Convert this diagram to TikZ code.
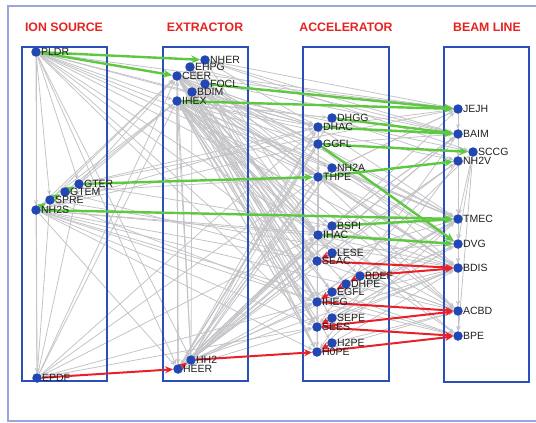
\documentclass[tikz,border=0pt]{standalone}
\usepackage{fontspec}
\setmainfont{Liberation Sans}
\usetikzlibrary{arrows.meta}
\pgfdeclarelayer{bg}
\pgfdeclarelayer{boxl}
\pgfdeclarelayer{col}
\pgfsetlayers{bg,boxl,col,main}
\definecolor{boxblue}{HTML}{2A4FB8}
\definecolor{nodeblue}{HTML}{2246B2}
\definecolor{grn}{HTML}{5EC842}
\definecolor{rd}{HTML}{E8202A}
\definecolor{edgegray}{HTML}{C4C4C8}
\definecolor{framecol}{HTML}{9AA5DD}
\definecolor{ttlred}{HTML}{E52421}
\tikzset{
  vtx/.style={circle, fill=nodeblue, minimum size=9.5pt, inner sep=0pt, label distance=0.3pt,
    label={[lbl]0:#1}},
  lbl/.style={font=\fontsize{10.5}{12}\selectfont, text=black!88, inner sep=0pt},
  ttl/.style={font=\bfseries\fontsize{12.3}{14}\selectfont, text=ttlred, inner sep=0pt},
  boxst/.style={draw=boxblue, line width=2.2pt},
  gedge/.style={draw=edgegray, line width=0.8pt, -{Stealth[length=5pt,width=4pt]}},
  gre/.style={draw=grn, line width=2.4pt, -{Stealth[length=9pt,width=8pt]}},
  red/.style={draw=rd, line width=2pt, -{Stealth[length=8pt,width=7pt]}}
}
\begin{document}
\begin{tikzpicture}[x=1pt,y=-1pt]
\useasboundingbox (0,0) rectangle (536,423);
\draw[draw=framecol, line width=1.5pt] (8,6) rectangle (560,421);

% titles
\node[ttl] (tIon) at (64,27) {ION SOURCE};
\node[ttl] (tExt) at (205,27) {EXTRACTOR};
\node[ttl] (tAcc) at (346,27) {ACCELERATOR};
\node[ttl] (tBeam) at (487,27) {BEAM LINE};

% ion source
\node[vtx=PLDR] (PLDR) at (36,52) {};
\node[vtx=GTER] (GTER) at (79,184) {};
\node[vtx=GTEM] (GTEM) at (65,192) {};
\node[vtx=SPRE] (SPRE) at (50,200) {};
\node[vtx=NH2S] (NH2S) at (36,210) {};
\node[vtx=EPDF] (EPDF) at (37,378) {};
% extractor
\node[vtx=NHER] (NHER) at (205,60) {};
\node[vtx=EHPG] (EHPG) at (190,67) {};
\node[vtx=CEER] (CEER) at (177,76) {};
\node[vtx=FOCL] (FOCL) at (205,84) {};
\node[vtx=BDIM] (BDIM) at (192,92) {};
\node[vtx=IHEX] (IHEX) at (177,101) {};
\node[vtx=HH2] (HH2) at (191,360) {};
\node[vtx=HEER] (HEER) at (178,369) {};
% accelerator
\node[vtx=DHGG] (DHGG) at (332,118) {};
\node[vtx=DHAC] (DHAC) at (318,127) {};
\node[vtx=GGFL] (GGFL) at (318,144) {};
\node[vtx=NH2A] (NH2A) at (332,168) {};
\node[vtx=THPE] (THPE) at (318,177) {};
\node[vtx=BSPI] (BSPI) at (332,226) {};
\node[vtx=IHAC] (IHAC) at (318,235) {};
\node[vtx=LESE] (LESE) at (332,253) {};
\node[vtx=SEAC] (SEAC) at (317,261) {};
\node[vtx=BDEF] (BDEF) at (360,276) {};
\node[vtx=DHPE] (DHPE) at (346,284) {};
\node[vtx=EGFL] (EGFL) at (332,292) {};
\node[vtx=IHEG] (IHEG) at (317,302) {};
\node[vtx=SEPE] (SEPE) at (332,318) {};
\node[vtx=SEES] (SEES) at (317,327) {};
\node[vtx=H2PE] (H2PE) at (332,343) {};
\node[vtx=H0PE] (H0PE) at (317,352) {};
% beam line
\node[vtx=JEJH] (JEJH) at (458,109) {};
\node[vtx=BAIM] (BAIM) at (458,134) {};
\node[vtx=SCCG] (SCCG) at (473,152) {};
\node[vtx=NH2V] (NH2V) at (458,161) {};
\node[vtx=TMEC] (TMEC) at (458,219) {};
\node[vtx=DVG] (DVG) at (458,244) {};
\node[vtx=BDIS] (BDIS) at (458,268) {};
\node[vtx=ACBD] (ACBD) at (458,311) {};
\node[vtx=BPE] (BPE) at (458,336) {};

\begin{pgfonlayer}{boxl}
\draw[boxst] (22,47) rectangle (107,381);
\draw[boxst] (163,47) rectangle (248,381);
\draw[boxst] (303,47) rectangle (389,381);
\draw[boxst] (444,47) rectangle (529,382);
\end{pgfonlayer}

\begin{pgfonlayer}{bg}
\foreach \a/\b in {
 PLDR/GTER, PLDR/SPRE, PLDR/NH2S, PLDR/EPDF, PLDR/CEER, PLDR/IHEX, PLDR/BDIM, PLDR/HEER, PLDR/HH2,
 PLDR/DHAC, PLDR/THPE, PLDR/IHAC, PLDR/SEAC, PLDR/IHEG, PLDR/SEES, PLDR/JEJH, PLDR/TMEC, PLDR/BDIS,
 NH2S/EPDF, NH2S/CEER, NH2S/IHEX, NH2S/HEER, NH2S/GGFL, NH2S/DHAC, NH2S/IHAC, NH2S/SEAC, NH2S/IHEG,
 NH2S/SEES, NH2S/H0PE, NH2S/DVG, NH2S/ACBD, NH2S/BPE,
 GTER/CEER, GTER/IHEX, GTER/DHAC, GTER/BSPI, GTER/JEJH,
 GTEM/IHEX, GTEM/THPE, GTEM/SEAC, SPRE/CEER, SPRE/IHEG, SPRE/BDIS,
 EPDF/CEER, EPDF/IHEX, EPDF/SPRE, EPDF/GTER, EPDF/DHAC, EPDF/THPE, EPDF/IHAC, EPDF/SEES, EPDF/IHEG,
 CEER/DHAC, CEER/GGFL, CEER/THPE, CEER/IHAC, CEER/SEAC, CEER/IHEG, CEER/SEES, CEER/H0PE, CEER/JEJH,
 CEER/BAIM, CEER/TMEC, CEER/DVG, CEER/BDIS, CEER/ACBD, CEER/HEER, CEER/LESE, CEER/EGFL, CEER/SEPE,
 IHEX/DHGG, IHEX/DHAC, IHEX/GGFL, IHEX/NH2A, IHEX/THPE, IHEX/BSPI, IHEX/IHAC, IHEX/SEAC, IHEX/IHEG,
 IHEX/SEES, IHEX/H0PE, IHEX/HEER, IHEX/NH2V, IHEX/TMEC, IHEX/BPE, IHEX/ACBD, IHEX/LESE, IHEX/EGFL,
 IHEX/DHPE, IHEX/H2PE, IHEX/BDEF,
 BDIM/DHAC, BDIM/THPE, BDIM/IHAC, BDIM/SEAC, BDIM/BDIS, BDIM/SCCG, BDIM/SEPE, BDIM/IHEG, BDIM/SEES,
 BDIM/H0PE,
 NHER/JEJH, NHER/SCCG, NHER/DHAC, NHER/IHAC, NHER/BAIM, EHPG/THPE, EHPG/SEES, EHPG/BAIM,
 EHPG/IHAC, EHPG/SEAC, FOCL/IHEG,
 FOCL/GGFL, FOCL/SEAC, FOCL/DVG, FOCL/TMEC,
 HEER/IHEX, HEER/DHAC, HEER/GGFL, HEER/THPE, HEER/IHAC, HEER/SEAC, HEER/IHEG, HEER/SEES,
 HEER/NH2V, HEER/TMEC, HEER/BSPI, HEER/CEER, HEER/DHGG, HEER/NH2A, HEER/BAIM,
 HH2/IHEX, HH2/DHAC, HH2/THPE, HH2/IHAC, HH2/SEAC, HH2/BDIS, HH2/DVG, HH2/CEER, HH2/JEJH,
 HH2/GGFL, HH2/BSPI, HH2/NH2A, HH2/BAIM, HH2/BDIM,
 DHAC/CEER, THPE/IHEX, IHAC/HEER, SEAC/IHEX, DHGG/IHEX, IHEG/CEER, SEES/IHEX, H0PE/IHEX, GGFL/HEER,
 DHAC/THPE, THPE/IHAC, IHAC/SEAC, SEAC/IHEG, IHEG/SEES, SEES/H0PE, GGFL/IHAC, DHAC/SEES, THPE/H0PE,
 DHAC/JEJH, DHAC/TMEC, GGFL/BAIM, GGFL/BDIS, THPE/JEJH, THPE/DVG, THPE/BDIS, THPE/ACBD,
 IHAC/BAIM, IHAC/BDIS, IHAC/ACBD, IHAC/BPE, SEAC/TMEC, SEAC/NH2V, SEAC/ACBD, IHEG/TMEC,
 IHEG/BDIS, IHEG/BPE, IHEG/DVG, SEES/BDIS, SEES/DVG, SEES/TMEC, H0PE/ACBD, H0PE/BDIS, H0PE/TMEC,
 NH2A/TMEC, BSPI/BDIS, DHGG/NH2V, LESE/DVG, BDEF/ACBD, EGFL/BPE, DHPE/TMEC, H2PE/ACBD, SEPE/BDIS,
 JEJH/THPE, BAIM/IHAC, NH2V/SEAC, TMEC/IHEG, DVG/SEES, BDIS/THPE, SCCG/IHEG, BAIM/SEES, NH2V/H0PE,
 JEJH/BAIM, BAIM/NH2V, NH2V/TMEC, TMEC/DVG, DVG/BDIS, BDIS/ACBD, ACBD/BPE, SCCG/TMEC, SCCG/DVG,
 JEJH/TMEC, SCCG/BPE, JEJH/ACBD, BAIM/BDIS}
 \draw[gedge] (\a) -- (\b);
\end{pgfonlayer}

\begin{pgfonlayer}{col}
\foreach \a/\b in {PLDR/NHER, PLDR/CEER, FOCL/JEJH, IHEX/JEJH, DHGG/BAIM, DHAC/BAIM,
 GGFL/SCCG, GGFL/DVG, THPE/NH2V, GTER/THPE, NH2S/TMEC, BSPI/TMEC, IHAC/DVG,
 NH2S/SPRE, SPRE/GTEM, GTEM/GTER}
 \draw[gre] (\a) -- (\b);
\foreach \a/\b in {EPDF/HEER, HEER/HH2, HH2/H0PE, H2PE/H0PE, H0PE/BPE, SEES/BPE, SEPE/SEES,
 SEES/ACBD, IHEG/ACBD, BDEF/DHPE, DHPE/EGFL, EGFL/IHEG, BDEF/BDIS, SEAC/BDIS, LESE/SEAC}
 \draw[red] (\a) -- (\b);
\end{pgfonlayer}
\end{tikzpicture}
\end{document}
